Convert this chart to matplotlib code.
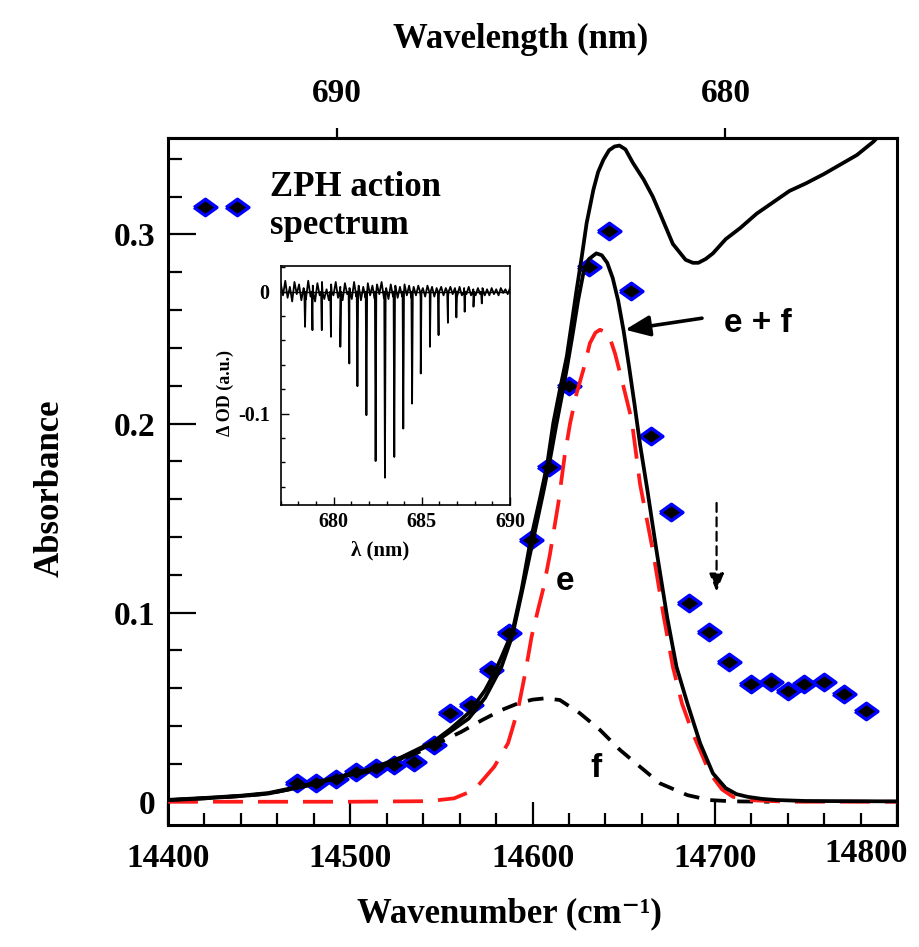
import numpy as np
import matplotlib
matplotlib.use("Agg")
import matplotlib.pyplot as plt
from matplotlib.ticker import MultipleLocator, NullLocator, FuncFormatter, FormatStrFormatter
from matplotlib.lines import Line2D
from matplotlib.transforms import ScaledTranslation

# ---------------- data ----------------
# measured absorption spectrum (solid black, upper curve)
abs_wn = [14400, 14420, 14440, 14455, 14473, 14491, 14510, 14528, 14546, 14555,
          14565, 14574, 14579, 14583, 14589, 14594, 14599, 14604, 14608, 14611.4,
          14615, 14618.8, 14621.5, 14624.2, 14627, 14629.7, 14633.4, 14636, 14638.9,
          14642, 14645, 14647.7, 14651, 14655, 14661, 14666, 14670, 14677, 14684,
          14688, 14691, 14695, 14699, 14706, 14714, 14723, 14732, 14741, 14750,
          14760, 14769, 14778, 14787, 14790]
abs_od = [0.0010, 0.0020, 0.0032, 0.0046, 0.0082, 0.0126, 0.0170, 0.0235, 0.0320, 0.0385,
          0.0470, 0.0590, 0.0680, 0.0765, 0.0900, 0.1120, 0.1385, 0.1600, 0.1780, 0.2002,
          0.2178, 0.2354, 0.2530, 0.2707, 0.2880, 0.3060, 0.3236, 0.3330, 0.3395,
          0.3445, 0.3465, 0.3470, 0.3450, 0.3380, 0.3290, 0.3200, 0.3110, 0.2950, 0.2866,
          0.2850, 0.2850, 0.2870, 0.2900, 0.2975, 0.3034, 0.3110, 0.3170, 0.3230, 0.3270,
          0.3320, 0.3370, 0.3420, 0.3490, 0.3520]

# sum of the two fitted bands (e + f)
sum_wn = [14400, 14420, 14440, 14455, 14473, 14491, 14510, 14528, 14546, 14555,
          14565, 14574, 14583, 14589, 14594, 14600, 14606, 14610, 14613, 14616,
          14619, 14622, 14625, 14628, 14631, 14635, 14638, 14641, 14644, 14647,
          14650, 14653, 14656, 14659, 14663, 14668, 14674, 14679, 14685, 14692,
          14699, 14706, 14712, 14718, 14726, 14734, 14750, 14800]
sum_od = [0.0008, 0.0018, 0.0030, 0.0043, 0.0078, 0.0122, 0.0165, 0.0228, 0.0312, 0.0372,
          0.0440, 0.0550, 0.0714, 0.0880, 0.1100, 0.1370, 0.1640, 0.1830, 0.1990, 0.2140,
          0.2300, 0.2470, 0.2650, 0.2800, 0.2870, 0.2900, 0.2890, 0.2850, 0.2770, 0.2650,
          0.2490, 0.2300, 0.2100, 0.1890, 0.1650, 0.1330, 0.0970, 0.0714, 0.0520, 0.0309,
          0.0150, 0.0072, 0.0040, 0.0026, 0.0015, 0.0009, 0.0004, 0.0002]

# band e (red dashed)
e_wn = [14400, 14500, 14543, 14557, 14568, 14579, 14586.6, 14592, 14596, 14599.5,
        14603, 14606, 14609.6, 14614.2, 14617.8, 14620.6, 14624.2, 14627.9, 14631.5,
        14634.5, 14637, 14641.6, 14645.3, 14649.9, 14654.4, 14659, 14666, 14672,
        14677, 14682, 14688, 14697.4, 14704, 14710, 14720, 14740, 14800]
e_od = [0.0, 0.0, 0.0003, 0.0018, 0.0062, 0.0185, 0.0310, 0.0486, 0.0680, 0.0873,
        0.1014, 0.1130, 0.1310, 0.1580, 0.1840, 0.2000, 0.2160, 0.2284, 0.2425,
        0.2480, 0.2496, 0.2478, 0.2370, 0.2196, 0.2020, 0.1680, 0.1330, 0.0979,
        0.0714, 0.0520, 0.0360, 0.0150, 0.0065, 0.0026, 0.0008, 0.0, 0.0]

# band f (black dashed)
f_wn = [14400, 14420, 14440, 14455, 14473, 14491, 14510, 14528, 14546, 14561,
        14572, 14583, 14592, 14600, 14607, 14615, 14626, 14637, 14648, 14659,
        14670, 14685, 14697, 14710, 14730]
f_od = [0.0008, 0.0018, 0.0030, 0.0043, 0.0078, 0.0120, 0.0160, 0.0220, 0.0300, 0.0370,
        0.0430, 0.0485, 0.0520, 0.0540, 0.0547, 0.0538, 0.0468, 0.0380, 0.0274, 0.0185,
        0.0097, 0.0035, 0.0009, 0.0002, 0.0]

# ZPH action spectrum (diamonds)
zph_wn = [14471, 14481, 14492, 14503, 14514, 14524, 14535, 14546, 14555, 14566,
          14577, 14587, 14599, 14609, 14620, 14631, 14642, 14654, 14665, 14676,
          14686, 14697, 14708, 14720, 14731, 14740, 14749, 14760, 14771, 14783]
zph_od = [0.0097, 0.0100, 0.0118, 0.0159, 0.0177, 0.0194, 0.0212, 0.0300, 0.0468, 0.0512,
          0.0697, 0.0891, 0.1385, 0.1772, 0.2200, 0.2828, 0.3016, 0.2700, 0.1935, 0.1534,
          0.1050, 0.0896, 0.0737, 0.0623, 0.0635, 0.0587, 0.0623, 0.0635, 0.0570, 0.0482]

# axis ticks
wn_ticks = [14400, 14500, 14600, 14700, 14800]
nm_ticks = [690, 680]

# inset: spectral hole positions (nm) and depths (delta OD)
hole_nm = [678.38, 678.80, 679.33, 679.85, 680.38, 680.89, 681.35, 681.86, 682.38,
           682.91, 683.44, 683.95, 684.45, 684.94, 685.46, 685.95, 686.48, 686.96,
           687.43, 687.93, 688.40]
hole_depth = [-0.0288, -0.0315, -0.0315, -0.0370, -0.0452, -0.0589, -0.0775, -0.1013,
              -0.1389, -0.1526, -0.1356, -0.1123, -0.0918, -0.0671, -0.0452, -0.0356,
              -0.0255, -0.0211, -0.0164, -0.0123, -0.0096]
# inset: baseline noise of the difference trace
base_noise = [0.007, -0.003, 0.009, -0.005, 0.004, -0.008, 0.008, -0.002, 0.006, -0.007,
              0.003, -0.006, 0.009, -0.004, 0.005, -0.008, 0.007, -0.003, 0.008, -0.006,
              0.002, -0.007, 0.006, -0.003, 0.008, -0.005, 0.004, -0.007, 0.007, -0.002,
              0.003, -0.006, 0.008, -0.004, 0.005, -0.007, 0.004, -0.005, 0.007, -0.003,
              0.005, -0.006, 0.006, -0.002, 0.008, -0.005, 0.003, -0.006, 0.006, -0.004,
              0.005, -0.005, 0.004, -0.004, 0.006, -0.003, 0.005, -0.005, 0.004, -0.003,
              0.005, -0.004, 0.003, -0.004, 0.005, -0.002, 0.004, -0.004, 0.003, -0.003,
              0.004, -0.003, 0.003, -0.004, 0.004, -0.002, 0.003, -0.003, 0.004, -0.003,
              0.003, -0.002, 0.004, -0.003, 0.002, -0.003, 0.003, -0.002, 0.003, -0.003,
              0.002, -0.003, 0.003, -0.002, 0.002, -0.003, 0.003, -0.001, 0.002, -0.002,
              0.003]

# ---------------- style ----------------
plt.rcParams["font.family"] = ["Liberation Serif", "DejaVu Serif"]
plt.rcParams["font.weight"] = "bold"
plt.rcParams["axes.labelweight"] = "bold"
plt.rcParams["axes.unicode_minus"] = False

SANS = ["Liberation Sans", "DejaVu Sans"]
LW = 2.7
BLUE = "#0000ff"

fig = plt.figure(figsize=(9.19, 9.47), dpi=100)
ax = fig.add_axes([168 / 919, 1 - 825 / 947, 729 / 919, 687 / 947])

# diamond slightly wider than tall
diamond = [(-1, 0), (0, 0.72), (1, 0), (0, -0.72), (-1, 0)]

ax.plot(zph_wn, zph_od, linestyle="none", marker=diamond, ms=16.5, mfc="black",
        mec=BLUE, mew=2.4, zorder=2)
ax.plot(f_wn, f_od, color="black", lw=LW, ls=(0, (4.2, 3.0)), zorder=3)
ax.plot(e_wn, e_od, color="#ff1a1a", lw=LW, ls=(0, (8.0, 4.0)), zorder=3)
ax.plot(sum_wn, sum_od, color="black", lw=LW, zorder=4, solid_joinstyle="round")
ax.plot(abs_wn, abs_od, color="black", lw=LW, zorder=4, solid_joinstyle="round")

ax.set_xlim(14400, 14800)
ax.set_ylim(-0.0123, 0.351)

for s in ax.spines.values():
    s.set_linewidth(2.2)

ax.set_xticks(wn_ticks)
ax.xaxis.set_minor_locator(MultipleLocator(20))
ax.xaxis.set_major_formatter(FormatStrFormatter("%d"))
ax.yaxis.set_major_locator(MultipleLocator(0.1))
ax.yaxis.set_minor_locator(MultipleLocator(0.02))
ax.yaxis.set_major_formatter(FuncFormatter(lambda v, p: "0" if abs(v) < 1e-9 else f"{v:g}"))

ax.tick_params(axis="both", which="both", direction="in", top=False, right=False,
               labelsize=24, width=1.6)
ax.tick_params(axis="x", which="major", length=16.5, pad=13)
ax.tick_params(axis="x", which="minor", length=8.5)
ax.tick_params(axis="y", which="major", length=20, pad=9)
ax.tick_params(axis="y", which="minor", length=10)

# keep the right-most wavenumber label inside the figure
last_lbl = ax.xaxis.get_major_ticks()[-1].label1
last_lbl.set_horizontalalignment("right")
last_lbl.set_transform(last_lbl.get_transform()
                       + ScaledTranslation(0.11, 0.05, fig.dpi_scale_trans))

ax.set_xlabel("Wavenumber (cm⁻¹)", fontsize=25)
ax.xaxis.set_label_coords(0.469, -0.105)
ax.set_ylabel("Absorbance", fontsize=25)
ax.yaxis.set_label_coords(-0.1385, 0.49)


# top wavelength axis
def wn_to_nm(x):
    x = np.asarray(x, dtype=float)
    with np.errstate(divide="ignore", invalid="ignore"):
        return 1e7 / x


secax = ax.secondary_xaxis("top", functions=(wn_to_nm, wn_to_nm))
secax.set_xticks(nm_ticks)
secax.xaxis.set_minor_locator(NullLocator())
secax.xaxis.set_major_formatter(FormatStrFormatter("%d"))
secax.tick_params(axis="x", direction="out", length=7, width=1.6, labelsize=24, pad=14)
secax.spines["top"].set_linewidth(2.2)
secax.set_xlabel("Wavelength (nm)", fontsize=25)
secax.xaxis.set_label_coords(0.484, 1.131, transform=ax.transAxes)

# legend
leg_handle = Line2D([], [], linestyle="none", marker=diamond, ms=16.5, mfc="black",
                    mec=BLUE, mew=2.4)
leg = ax.legend([leg_handle], ["ZPH action\nspectrum"], numpoints=2, frameon=False,
                loc="center left", bbox_to_anchor=(0.0365, 0.8996), borderpad=0,
                borderaxespad=0, handlelength=1.52, handletextpad=0.65,
                prop={"family": "Liberation Serif", "weight": "bold", "size": 25})

# annotations
ax.annotate("", xy=(14650.8, 0.2496), xytext=(14693, 0.2557),
            arrowprops=dict(arrowstyle="-|>,head_length=1.0,head_width=0.42",
                            mutation_scale=15, lw=2.6, color="black",
                            shrinkA=0, shrinkB=0), zorder=6)
ax.text(14723.5, 0.2528, "e + f", family=SANS, weight="bold", fontsize=24,
        ha="center", va="center")
ax.text(14617.7, 0.1164, "e", family=SANS, weight="bold", fontsize=24,
        ha="center", va="center")
ax.text(14635, 0.0177, "f", family=SANS, weight="bold", fontsize=24,
        ha="center", va="center")
ax.annotate("", xy=(14701, 0.111), xytext=(14701, 0.158),
            arrowprops=dict(arrowstyle="-|>,head_length=1.0,head_width=0.4",
                            mutation_scale=11, lw=1.6, color="black", ls=(0, (4, 2.5)),
                            shrinkA=0, shrinkB=0), zorder=6)

# ---------------- inset: hole-burning difference spectrum ----------------
ins = fig.add_axes([280.7 / 919, 1 - 505 / 947, 229.3 / 919, 239 / 947])
grid_nm = np.linspace(677.0, 690.0, len(base_noise))
hx = np.asarray(hole_nm)
trace_x = np.concatenate([grid_nm, hx - 0.04, hx, hx + 0.04])
trace_y = np.concatenate([base_noise, np.zeros(len(hx)), hole_depth, np.zeros(len(hx))])
order = np.argsort(trace_x)
ins.plot(trace_x[order], trace_y[order], color="black", lw=1.3)
ins.axhline(0, color="black", lw=1.0)

ins.set_xlim(677, 690)
ins.set_ylim(-0.175, 0.0211)
for s in ins.spines.values():
    s.set_linewidth(1.2)
ins.xaxis.set_major_locator(MultipleLocator(5))
ins.xaxis.set_minor_locator(MultipleLocator(1))
ins.yaxis.set_major_locator(MultipleLocator(0.1))
ins.yaxis.set_minor_locator(MultipleLocator(0.02))
ins.yaxis.set_major_formatter(FuncFormatter(lambda v, p: "0" if abs(v) < 1e-9 else f"{v:g}"))
ins.tick_params(axis="both", which="both", direction="in", top=False, right=False,
                labelsize=14.5, width=1.0)
ins.tick_params(axis="x", which="major", length=6, pad=5)
ins.tick_params(axis="y", which="major", length=6, pad=8)
ins.tick_params(axis="both", which="minor", length=3)
ins.set_xlabel("λ (nm)", fontsize=15)
ins.xaxis.set_label_coords(0.433, -0.15)
ins.set_ylabel("Δ OD (a.u.)", fontsize=13)
ins.yaxis.set_label_coords(-0.205, 0.47)

fig.savefig("out.png", dpi=100)
